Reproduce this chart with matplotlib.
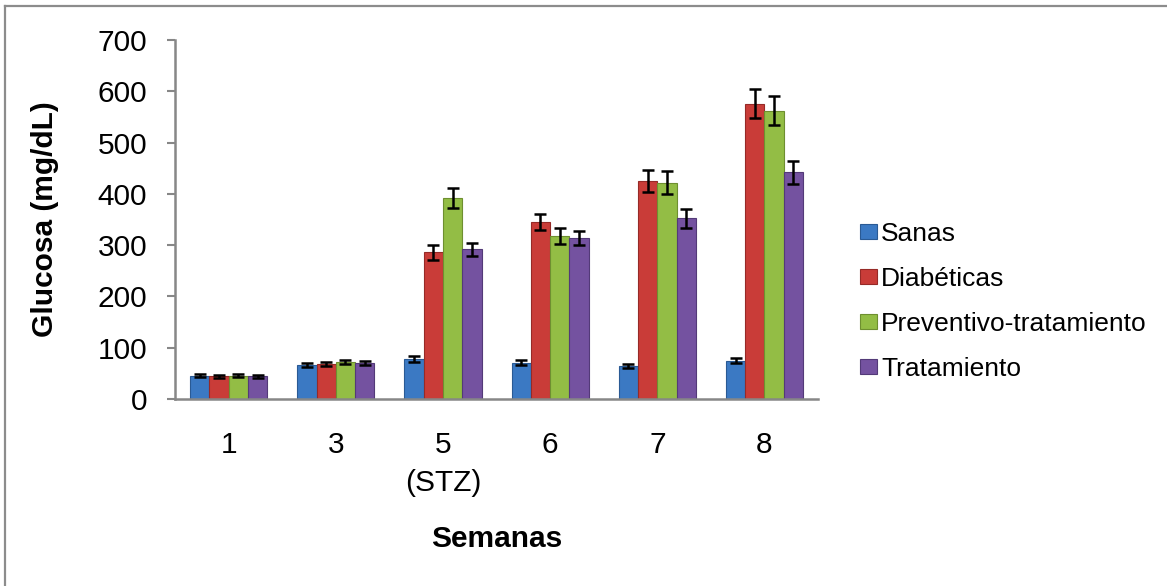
import numpy as np
import matplotlib.pyplot as plt
from matplotlib.lines import Line2D

plt.rcParams["font.family"] = ["Liberation Sans", "DejaVu Sans"]

weeks = ["1", "3", "5\n(STZ)", "6", "7", "8"]
groups = ["Sanas", "Diabéticas", "Preventivo-tratamiento", "Tratamiento"]

sanas = [45, 66, 78, 71, 64, 75]
diabeticas = [44, 69, 286, 345, 425, 576]
preventivo = [45, 72, 392, 318, 422, 562]
tratamiento = [44, 71, 292, 314, 352, 442]

sanas_err = [3, 4, 5, 5, 4, 5]
diabeticas_err = [3, 4, 15, 15, 22, 29]
preventivo_err = [3, 4, 20, 15, 22, 28]
tratamiento_err = [3, 4, 13, 14, 19, 22]

colors = ["#3B79C3", "#C93C38", "#93BD45", "#7452A0"]
edges = ["#2A5A94", "#962A27", "#6E8F30", "#533A78"]

fig = plt.figure(figsize=(11.67, 5.86), dpi=100)
ax = fig.add_axes([0.150, 0.3191, 0.551, 0.6126])

x = np.arange(len(weeks))
w = 0.18
series = [
    (sanas, sanas_err),
    (diabeticas, diabeticas_err),
    (preventivo, preventivo_err),
    (tratamiento, tratamiento_err),
]
for i, (vals, errs) in enumerate(series):
    pos = x + (i - 1.5) * w
    ax.bar(pos, vals, width=w, color=colors[i], edgecolor=edges[i],
           linewidth=0.8, label=groups[i], zorder=2)
    ax.errorbar(pos, vals, yerr=errs, fmt="none", ecolor="black",
                elinewidth=1.8, capsize=4.3, capthick=1.8, zorder=3)

ax.set_xlim(-0.5, 5.5)
ax.set_ylim(0, 700)
ax.set_yticks(range(0, 701, 100))
ax.set_xticks(x)
ax.set_xticklabels(weeks, linespacing=1.45)

for s in ["top", "right"]:
    ax.spines[s].set_visible(False)
for s in ["left", "bottom"]:
    ax.spines[s].set_color("#878787")
    ax.spines[s].set_linewidth(1.8)

ax.tick_params(axis="y", length=6, width=1.5, color="#878787",
               labelsize=21.5, pad=14)
ax.tick_params(axis="x", length=0, labelsize=21.5, pad=23)

ax.set_ylabel("Glucosa (mg/dL)", fontsize=21.5, fontweight="bold", labelpad=28)
ax.set_xlabel("Semanas", fontsize=21.5, fontweight="bold", labelpad=20)

fig.legend(*ax.get_legend_handles_labels(), loc="center left",
           bbox_to_anchor=(0.737, 0.486), frameon=False,
           fontsize=19, labelspacing=0.8, handlelength=0.65,
           handleheight=0.5, handletextpad=0.15, borderpad=0,
           borderaxespad=0)

# chart area border (only top and left edges visible)
fig.add_artist(Line2D([0.004, 1.0], [0.990, 0.990], color="#8C8C8C", lw=1.6))
fig.add_artist(Line2D([0.004, 0.004], [0.0, 0.990], color="#8C8C8C", lw=1.6))

fig.savefig("out.png", dpi=100)
